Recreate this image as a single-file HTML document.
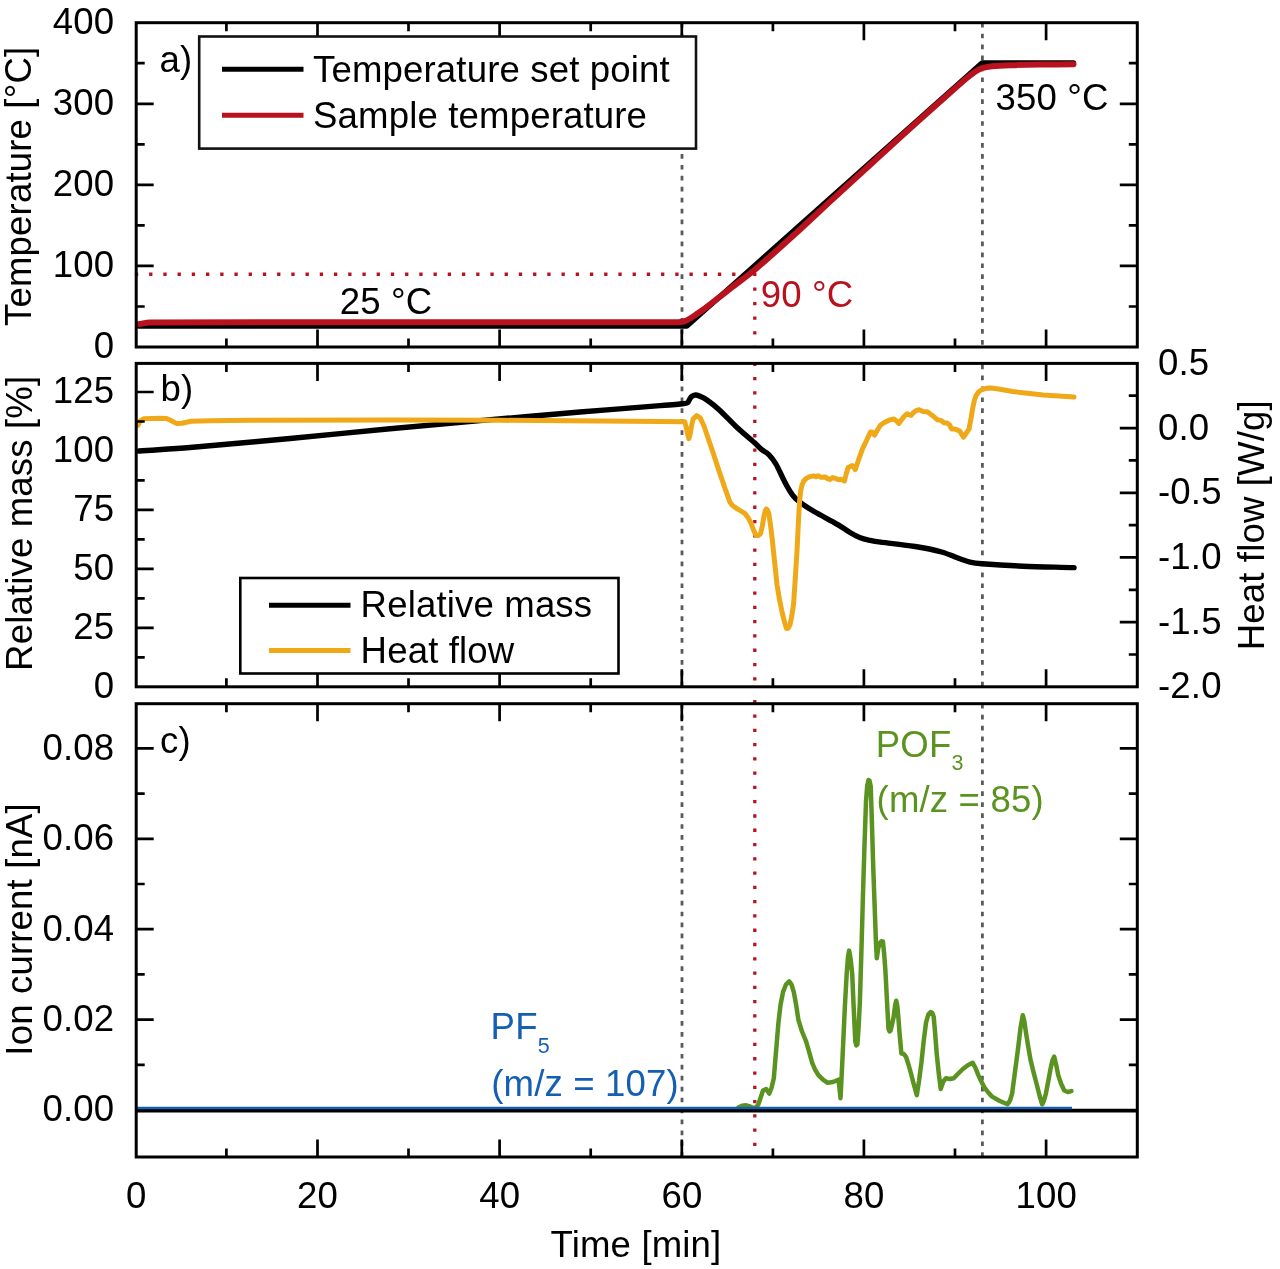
<!DOCTYPE html>
<html lang="en"><head><meta charset="utf-8"><title>TGA-DSC-MS</title>
<style>html,body{margin:0;padding:0;background:#fff;overflow:hidden}svg{display:block}</style></head>
<body>
<svg width="1280" height="1269" viewBox="0 0 1280 1269" font-family='"Liberation Sans", Arial, Helvetica, sans-serif' letter-spacing="0.15" style="display:block;filter:blur(0.55px)">
<rect width="1280" height="1269" fill="#fff"/>
<line x1="682.0" y1="22.7" x2="682.0" y2="347.0" stroke="#5a5a5a" stroke-width="2.8" stroke-dasharray="4.70 6.24" stroke-dashoffset="0.0"/>
<line x1="982.4" y1="22.7" x2="982.4" y2="347.0" stroke="#5a5a5a" stroke-width="2.8" stroke-dasharray="4.70 6.24" stroke-dashoffset="0.0"/>
<line x1="682.0" y1="364.6" x2="682.0" y2="686.8" stroke="#5a5a5a" stroke-width="2.8" stroke-dasharray="4.70 6.24" stroke-dashoffset="0.0"/>
<line x1="682.0" y1="703.8" x2="682.0" y2="1157.0" stroke="#5a5a5a" stroke-width="2.8" stroke-dasharray="4.70 6.24" stroke-dashoffset="0.0"/>
<line x1="982.4" y1="364.6" x2="982.4" y2="686.8" stroke="#5a5a5a" stroke-width="2.8" stroke-dasharray="4.70 6.24" stroke-dashoffset="0.0"/>
<line x1="982.4" y1="703.8" x2="982.4" y2="1157.0" stroke="#5a5a5a" stroke-width="2.8" stroke-dasharray="4.70 6.24" stroke-dashoffset="0.0"/>
<line x1="134.9" y1="274.3" x2="746.8" y2="274.3" stroke="#b8121f" stroke-width="3.4" stroke-dasharray="3.30 10.92" stroke-dashoffset="0.0"/>
<line x1="754.8" y1="272.8" x2="754.8" y2="347.0" stroke="#b8121f" stroke-width="3.3" stroke-dasharray="3.30 11.29" stroke-dashoffset="0.0"/>
<line x1="754.8" y1="362.6" x2="754.8" y2="686.8" stroke="#b8121f" stroke-width="3.3" stroke-dasharray="3.30 11.00" stroke-dashoffset="0.0"/>
<line x1="754.8" y1="700.1" x2="754.8" y2="1157.0" stroke="#b8121f" stroke-width="3.3" stroke-dasharray="3.30 10.98" stroke-dashoffset="0.0"/>
<path d="M138.8 326.0 L686.9 326.0 L982.2 62.8 L1073.5 62.8" fill="none" stroke="#000" stroke-width="5.3" stroke-linejoin="round" stroke-linecap="round"/>
<path d="M139.2 324.0 C142.8 323.5 146.4 322.4 150.0 322.4 C155.5 322.4 316.7 322.3 400.0 322.3 C492.7 322.3 675.0 322.3 678.0 322.3 C680.0 322.3 682.1 322.0 684.0 321.4 C686.1 320.7 688.1 319.6 690.0 318.5 C692.4 317.1 694.7 315.4 697.0 313.8 C699.9 311.8 702.8 309.9 705.6 307.8 C709.8 304.6 721.8 295.1 730.0 288.8 C738.6 282.1 747.7 275.9 756.0 268.8 C768.5 258.2 785.4 242.7 800.0 229.5 C810.1 220.3 820.0 210.8 830.0 201.6 C845.1 187.7 876.6 158.8 900.0 137.5 C916.6 122.5 942.1 99.9 950.0 92.8 C955.3 88.1 962.1 82.1 966.0 78.8 C968.6 76.6 971.2 74.3 974.0 72.4 C976.5 70.7 979.2 69.2 982.0 68.2 C985.2 67.1 988.6 66.6 992.0 66.2 C997.1 65.7 1004.0 65.4 1010.0 65.2 C1019.0 64.9 1030.0 64.7 1040.0 64.6 C1051.2 64.4 1062.3 64.4 1073.5 64.3" fill="none" stroke="#b8121f" stroke-width="6" stroke-linejoin="round" stroke-linecap="round"/>
<rect x="136.2" y="22.7" width="1001.1" height="324.3" fill="none" stroke="#000" stroke-width="3.0"/>
<path d="M226.4 22.7v8.5M226.4 347.0v-8.5M317.5 22.7v17.5M317.5 347.0v-17.5M408.5 22.7v8.5M408.5 347.0v-8.5M499.6 22.7v17.5M499.6 347.0v-17.5M590.7 22.7v8.5M590.7 347.0v-8.5M681.8 22.7v17.5M681.8 347.0v-17.5M772.9 22.7v8.5M772.9 347.0v-8.5M863.9 22.7v17.5M863.9 347.0v-17.5M955.0 22.7v8.5M955.0 347.0v-8.5M1046.1 22.7v17.5M1046.1 347.0v-17.5" stroke="#000" stroke-width="2.7" fill="none"/>
<path d="M136.2 265.9h17.5M1137.3 265.9h-17.5M136.2 184.8h17.5M1137.3 184.8h-17.5M136.2 103.8h17.5M1137.3 103.8h-17.5M136.2 306.5h8.5M1137.3 306.5h-8.5M136.2 225.4h8.5M1137.3 225.4h-8.5M136.2 144.3h8.5M1137.3 144.3h-8.5M136.2 63.2h8.5M1137.3 63.2h-8.5" stroke="#000" stroke-width="2.7" fill="none"/>
<text x="114.3" y="358.4" text-anchor="end" fill="#000" font-size="36.6">0</text>
<text x="114.3" y="277.3" text-anchor="end" fill="#000" font-size="36.6">100</text>
<text x="114.3" y="196.2" text-anchor="end" fill="#000" font-size="36.6">200</text>
<text x="114.3" y="115.2" text-anchor="end" fill="#000" font-size="36.6">300</text>
<text x="114.3" y="34.1" text-anchor="end" fill="#000" font-size="36.6">400</text>
<text transform="translate(31.4 186.3) rotate(-90)" text-anchor="middle" font-size="36.6">Temperature [°C]</text>
<text x="159.5" y="71.9" text-anchor="start" fill="#000" font-size="36.6">a)</text>
<rect x="199.2" y="36.5" width="496.8" height="112.1" fill="#fff" stroke="#111" stroke-width="2.6"/>
<path d="M222 69.2H303.5" stroke="#000" stroke-width="5"/>
<path d="M222 115.2H303.5" stroke="#b8121f" stroke-width="5"/>
<text x="313.0" y="81.7" text-anchor="start" fill="#000" font-size="36.6">Temperature set point</text>
<text x="313.0" y="127.6" text-anchor="start" fill="#000" font-size="36.6">Sample temperature</text>
<text x="339.8" y="314.4" text-anchor="start" fill="#000" font-size="36.6">25 °C</text>
<text x="760.8" y="306.9" text-anchor="start" fill="#b8121f" font-size="36.6">90 °C</text>
<text x="995.4" y="109.7" text-anchor="start" fill="#000" font-size="36.6">350 °C</text>
<path d="M138.9 451.0 C155.9 449.8 173.0 448.9 190.0 447.5 C215.5 445.4 256.7 441.6 290.0 438.5 C323.3 435.4 356.7 431.9 390.0 428.8 C420.0 426.0 450.0 423.3 480.0 420.6 C513.3 417.7 546.7 414.8 580.0 412.0 C606.7 409.8 648.7 406.5 660.0 405.6 C667.5 405.0 680.0 404.0 682.5 403.7 C684.2 403.5 686.0 403.7 687.5 402.8 C688.6 402.1 688.8 400.6 689.5 399.5 C690.1 398.5 690.6 397.3 691.5 396.6 C692.6 395.7 694.1 395.1 695.5 395.0 C697.1 394.9 698.6 395.7 700.0 396.3 C702.1 397.2 705.0 398.6 707.3 400.2 C710.7 402.6 715.4 406.3 719.1 409.7 C724.7 414.8 730.0 420.9 735.7 426.2 C741.8 431.9 750.9 439.5 754.6 442.8 C757.0 445.0 759.2 447.5 761.7 449.6 C763.9 451.5 766.8 452.5 768.8 454.6 C771.6 457.4 773.9 460.6 775.9 464.0 C778.9 469.1 782.0 476.9 785.3 483.0 C787.5 487.0 789.6 491.1 792.4 494.8 C794.4 497.5 796.9 499.9 799.5 501.9 C803.5 505.0 808.8 508.4 813.7 511.3 C821.0 515.6 830.8 520.5 837.3 524.3 C841.7 526.8 845.7 529.9 850.0 532.5 C853.3 534.5 856.7 536.4 860.3 537.8 C863.4 539.0 866.7 539.6 870.0 540.3 C873.5 541.1 877.0 541.7 880.6 542.2 C885.9 542.9 903.7 544.7 915.2 546.5 C924.1 547.9 933.3 549.7 941.6 552.0 C947.2 553.5 952.4 556.1 957.8 558.0 C961.8 559.4 965.8 561.1 970.0 562.1 C974.0 563.0 978.1 563.4 982.2 563.7 C988.3 564.2 1009.3 565.6 1022.8 566.2 C1039.9 566.9 1056.9 567.1 1074.0 567.6" fill="none" stroke="#000" stroke-width="5.4" stroke-linejoin="round" stroke-linecap="round"/>
<path d="M137.7 425.5 L140.0 421.0 L144.0 418.8 L160.0 418.2 L166.0 418.4 L170.0 420.0 L176.7 423.6 L182.0 423.3 L191.0 421.3 L210.0 420.8 L250.0 420.3 L390.0 420.0 L500.0 420.3 L600.0 421.0 L660.0 421.6 L684.8 421.8 L686.4 428.0 L687.6 434.0 L688.8 438.7 L690.2 434.0 L691.5 426.0 L693.1 419.0 L696.7 415.6 L700.2 417.9 L704.0 426.0 L707.3 435.7 L713.0 452.5 L719.1 471.1 L724.5 487.0 L729.8 501.9 L732.5 505.5 L735.7 507.8 L740.0 510.5 L745.1 513.7 L748.0 517.5 L751.0 523.2 L753.5 530.0 L755.8 535.0 L758.0 535.6 L760.5 533.8 L762.3 526.0 L764.0 516.0 L765.3 510.5 L766.4 509.0 L767.6 510.3 L768.8 513.7 L770.5 525.0 L772.3 539.7 L774.6 562.0 L777.0 584.6 L779.4 599.0 L781.8 610.7 L784.2 621.0 L786.5 628.4 L788.2 628.2 L790.0 624.8 L791.8 616.0 L793.6 603.6 L795.3 578.0 L797.1 549.2 L798.3 524.0 L799.5 501.9 L800.6 491.5 L801.9 485.3 L804.0 480.6 L806.6 478.2 L810.0 476.6 L813.7 475.9 L816.0 476.8 L818.0 475.8 L821.0 477.2 L825.5 477.0 L828.0 479.0 L830.2 479.4 L832.5 477.6 L835.0 478.2 L838.0 479.6 L841.0 479.2 L844.4 481.0 L846.2 474.0 L848.1 467.7 L850.0 466.5 L852.2 465.6 L853.6 467.0 L855.2 469.7 L856.5 466.0 L858.5 460.0 L862.3 449.4 L866.5 440.5 L870.5 432.1 L872.5 432.3 L874.5 435.2 L876.3 432.0 L880.6 425.0 L885.0 422.2 L889.0 420.2 L893.8 418.9 L896.5 421.0 L898.9 423.4 L901.0 420.5 L904.0 416.5 L907.0 413.8 L909.0 414.8 L911.1 415.3 L913.0 413.0 L916.0 410.6 L919.2 409.8 L923.0 411.5 L927.3 411.8 L932.0 415.2 L937.5 419.9 L941.0 420.4 L944.0 422.8 L947.0 423.0 L949.7 425.0 L950.8 427.5 L951.7 429.1 L955.0 429.0 L959.8 431.1 L961.5 434.0 L963.5 437.2 L966.0 433.5 L969.0 429.1 L971.0 418.5 L973.0 406.7 L974.5 400.0 L976.1 395.5 L979.0 391.5 L982.2 389.5 L986.0 388.3 L991.3 388.0 L1000.0 389.3 L1012.7 391.5 L1043.1 394.9 L1074.0 397.0" fill="none" stroke="#efa818" stroke-width="5" stroke-linejoin="round" stroke-linecap="round"/>
<rect x="136.2" y="363.4" width="1001.1" height="323.4" fill="none" stroke="#000" stroke-width="3.0"/>
<path d="M226.4 363.4v8.5M226.4 686.8v-8.5M317.5 363.4v17.5M317.5 686.8v-17.5M408.5 363.4v8.5M408.5 686.8v-8.5M499.6 363.4v17.5M499.6 686.8v-17.5M590.7 363.4v8.5M590.7 686.8v-8.5M681.8 363.4v17.5M681.8 686.8v-17.5M772.9 363.4v8.5M772.9 686.8v-8.5M863.9 363.4v17.5M863.9 686.8v-17.5M955.0 363.4v8.5M955.0 686.8v-8.5M1046.1 363.4v17.5M1046.1 686.8v-17.5" stroke="#000" stroke-width="2.7" fill="none"/>
<path d="M136.2 627.8h17.5M136.2 568.9h17.5M136.2 509.9h17.5M136.2 451.0h17.5M136.2 392.0h17.5M136.2 657.3h8.5M136.2 598.4h8.5M136.2 539.4h8.5M136.2 480.4h8.5M136.2 421.5h8.5" stroke="#000" stroke-width="2.7" fill="none"/>
<path d="M1137.3 428.1h-17.5M1137.3 492.8h-17.5M1137.3 557.4h-17.5M1137.3 622.1h-17.5M1137.3 395.7h-8.5M1137.3 460.4h-8.5M1137.3 525.1h-8.5M1137.3 589.8h-8.5M1137.3 654.5h-8.5" stroke="#000" stroke-width="2.7" fill="none"/>
<text x="114.3" y="698.2" text-anchor="end" fill="#000" font-size="36.6">0</text>
<text x="114.3" y="639.2" text-anchor="end" fill="#000" font-size="36.6">25</text>
<text x="114.3" y="580.3" text-anchor="end" fill="#000" font-size="36.6">50</text>
<text x="114.3" y="521.3" text-anchor="end" fill="#000" font-size="36.6">75</text>
<text x="114.3" y="462.4" text-anchor="end" fill="#000" font-size="36.6">100</text>
<text x="114.3" y="403.4" text-anchor="end" fill="#000" font-size="36.6">125</text>
<text x="1158.0" y="374.8" text-anchor="start" fill="#000" font-size="36.6">0.5</text>
<text x="1158.0" y="439.5" text-anchor="start" fill="#000" font-size="36.6">0.0</text>
<text x="1158.0" y="504.2" text-anchor="start" fill="#000" font-size="36.6">-0.5</text>
<text x="1158.0" y="568.8" text-anchor="start" fill="#000" font-size="36.6">-1.0</text>
<text x="1158.0" y="633.5" text-anchor="start" fill="#000" font-size="36.6">-1.5</text>
<text x="1158.0" y="698.2" text-anchor="start" fill="#000" font-size="36.6">-2.0</text>
<text transform="translate(31.5 523.3) rotate(-90)" text-anchor="middle" font-size="36.6">Relative mass [%]</text>
<text transform="translate(1264.0 525.2) rotate(-90)" text-anchor="middle" font-size="36.6">Heat flow [W/g]</text>
<text x="160.5" y="400.7" text-anchor="start" fill="#000" font-size="36.6">b)</text>
<rect x="240.3" y="578" width="378.2" height="95.5" fill="#fff" stroke="#000" stroke-width="2.6"/>
<path d="M269 605.2H350.5" stroke="#000" stroke-width="5"/>
<path d="M269 650.6H350.5" stroke="#efa818" stroke-width="5"/>
<text x="360.6" y="616.8" text-anchor="start" fill="#000" font-size="36.6">Relative mass</text>
<text x="360.6" y="662.6" text-anchor="start" fill="#000" font-size="36.6">Heat flow</text>
<path d="M738.4 1107.6 L742.0 1105.8 L746.1 1105.3 L750.0 1106.5 L753.8 1108.3 L756.5 1107.0 L758.4 1104.3 L760.5 1098.0 L763.0 1090.5 L766.1 1089.0 L769.2 1093.6 L771.5 1088.0 L773.8 1078.2 L776.0 1052.0 L778.4 1022.9 L780.5 1005.0 L783.0 992.1 L786.0 984.5 L789.2 981.3 L791.5 984.5 L793.8 992.1 L796.0 1004.0 L798.4 1019.8 L802.0 1031.5 L806.1 1041.3 L809.0 1051.5 L812.2 1062.8 L815.0 1069.5 L818.4 1075.1 L823.0 1079.7 L827.6 1082.8 L833.0 1082.0 L838.4 1079.7 L839.5 1088.0 L840.5 1098.2 L841.7 1075.0 L843.0 1047.4 L844.8 1008.0 L846.7 973.7 L848.0 957.0 L849.1 950.6 L850.5 958.0 L852.2 973.7 L853.8 1010.0 L855.3 1041.3 L856.3 1045.5 L857.4 1044.4 L858.6 1027.0 L859.9 1001.3 L861.5 948.0 L863.0 893.7 L864.5 845.0 L866.0 801.5 L867.2 786.0 L868.5 780.0 L869.6 781.0 L870.7 786.1 L871.9 822.0 L873.1 863.0 L874.2 894.0 L875.3 924.5 L876.0 944.0 L876.8 958.3 L878.3 948.0 L879.9 942.9 L881.4 941.2 L882.9 941.4 L884.1 953.0 L885.4 970.6 L887.0 1001.0 L888.5 1029.0 L889.5 1031.5 L890.6 1030.5 L892.1 1024.0 L893.7 1016.7 L895.0 1006.0 L896.2 1000.7 L897.3 1006.0 L898.3 1016.7 L899.8 1036.0 L901.4 1053.6 L903.7 1054.0 L906.0 1056.7 L908.3 1064.0 L910.6 1072.0 L913.7 1084.0 L916.8 1095.1 L919.0 1081.0 L921.4 1062.8 L923.7 1041.0 L926.0 1022.9 L928.3 1014.5 L930.6 1012.1 L932.2 1012.8 L933.7 1016.7 L935.2 1034.0 L936.7 1053.6 L938.7 1073.0 L940.7 1089.0 L943.3 1081.5 L946.0 1078.2 L949.8 1079.0 L953.7 1078.2 L958.3 1073.5 L962.9 1069.0 L967.8 1065.3 L972.7 1062.8 L975.5 1068.0 L978.3 1075.1 L981.3 1081.5 L984.4 1087.4 L988.2 1092.5 L992.1 1096.6 L999.8 1101.0 L1007.5 1104.3 L1010.0 1100.5 L1012.1 1093.6 L1015.1 1071.0 L1018.2 1047.4 L1020.5 1028.0 L1022.8 1015.2 L1024.3 1021.0 L1025.9 1032.1 L1028.2 1046.5 L1030.5 1059.7 L1033.6 1072.5 L1036.7 1084.3 L1039.5 1095.5 L1042.2 1104.3 L1044.0 1100.5 L1045.9 1093.6 L1048.2 1081.5 L1050.5 1069.0 L1052.4 1060.5 L1054.2 1056.7 L1056.2 1065.0 L1058.2 1075.1 L1061.2 1084.0 L1064.3 1090.5 L1067.8 1092.0 L1071.4 1091.1" fill="none" stroke="#5b9320" stroke-width="4.5" stroke-linejoin="round" stroke-linecap="round"/>
<path d="M136.2 1110.6H1137.3" stroke="#000" stroke-width="3.6"/>
<path d="M137.2 1108.0H1072" stroke="#155fb3" stroke-width="2.6"/>
<rect x="136.2" y="703.7" width="1001.1" height="453.3" fill="none" stroke="#000" stroke-width="3.0"/>
<path d="M226.4 703.7v8.5M226.4 1157.0v-8.5M317.5 703.7v17.5M317.5 1157.0v-17.5M408.5 703.7v8.5M408.5 1157.0v-8.5M499.6 703.7v17.5M499.6 1157.0v-17.5M590.7 703.7v8.5M590.7 1157.0v-8.5M681.8 703.7v17.5M681.8 1157.0v-17.5M772.9 703.7v8.5M772.9 1157.0v-8.5M863.9 703.7v17.5M863.9 1157.0v-17.5M955.0 703.7v8.5M955.0 1157.0v-8.5M1046.1 703.7v17.5M1046.1 1157.0v-17.5" stroke="#000" stroke-width="2.7" fill="none"/>
<path d="M136.2 1019.6h17.5M1137.3 1019.6h-17.5M136.2 929.2h17.5M1137.3 929.2h-17.5M136.2 838.8h17.5M1137.3 838.8h-17.5M136.2 748.4h17.5M1137.3 748.4h-17.5M136.2 1064.8h8.5M1137.3 1064.8h-8.5M136.2 974.4h8.5M1137.3 974.4h-8.5M136.2 884.0h8.5M1137.3 884.0h-8.5M136.2 793.6h8.5M1137.3 793.6h-8.5" stroke="#000" stroke-width="2.7" fill="none"/>
<text x="114.3" y="1121.4" text-anchor="end" fill="#000" font-size="36.6">0.00</text>
<text x="114.3" y="1031.0" text-anchor="end" fill="#000" font-size="36.6">0.02</text>
<text x="114.3" y="940.6" text-anchor="end" fill="#000" font-size="36.6">0.04</text>
<text x="114.3" y="850.2" text-anchor="end" fill="#000" font-size="36.6">0.06</text>
<text x="114.3" y="759.8" text-anchor="end" fill="#000" font-size="36.6">0.08</text>
<text transform="translate(31.5 929.4) rotate(-90)" text-anchor="middle" font-size="36.6">Ion current [nA]</text>
<text x="160.0" y="752.6" text-anchor="start" fill="#000" font-size="36.6">c)</text>
<text x="136.2" y="1207.5" text-anchor="middle" fill="#000" font-size="36.6">0</text>
<text x="317.6" y="1207.5" text-anchor="middle" fill="#000" font-size="36.6">20</text>
<text x="499.7" y="1207.5" text-anchor="middle" fill="#000" font-size="36.6">40</text>
<text x="681.9" y="1207.5" text-anchor="middle" fill="#000" font-size="36.6">60</text>
<text x="864.0" y="1207.5" text-anchor="middle" fill="#000" font-size="36.6">80</text>
<text x="1046.2" y="1207.5" text-anchor="middle" fill="#000" font-size="36.6">100</text>
<text x="636.0" y="1257.0" text-anchor="middle" fill="#000" font-size="36.6">Time [min]</text>
<text x="875.8" y="756.6" fill="#5b9320" font-size="36.6">POF<tspan font-size="21.5" dy="13">3</tspan></text>
<text x="876.6" y="812.3" text-anchor="start" fill="#5b9320" font-size="36.6">(m/z = 85)</text>
<text x="490.6" y="1039.4" fill="#155fb3" font-size="36.6">PF<tspan font-size="21.5" dy="13.5">5</tspan></text>
<text x="491.2" y="1095.6" text-anchor="start" fill="#155fb3" font-size="36.6">(m/z = 107)</text>
</svg>
</body></html>
